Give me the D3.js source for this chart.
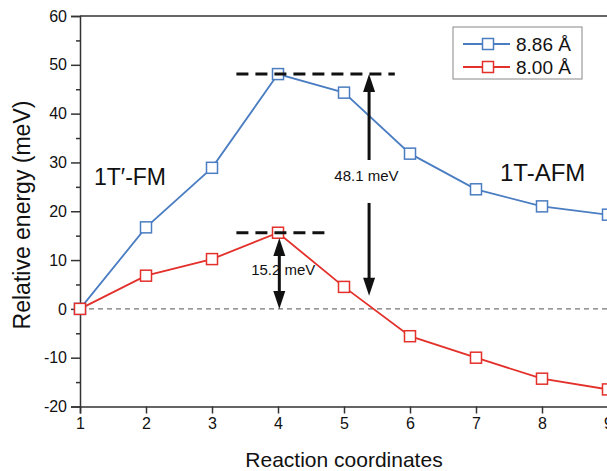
<html>
<head>
    <title></title>
    <script src='https://d3js.org/d3.v7.min.js'></script>
    <style>
        body { margin: 0; background: white; }
        text { font-family: 'Liberation Sans', Arial, sans-serif; fill: #111; }
    </style>
</head>
<body>
<script>

var coords = [1, 2, 3, 4, 5, 6, 7, 8, 9];
var e886 = [0, 16.7, 28.9, 48.1, 44.3, 31.8, 24.5, 21.0, 19.3];
var e800 = [0, 6.8, 10.2, 15.6, 4.5, -5.6, -10.0, -14.3, -16.5];
var seriesNames = ['8.86 Å', '8.00 Å'];
var seriesColors = ['#4a7dc1', '#e3302b'];
var xTicks = [1, 2, 3, 4, 5, 6, 7, 8, 9];
var yTicks = [-20, -10, 0, 10, 20, 30, 40, 50, 60];
var yMinor = [-15, -5, 5, 15, 25, 35, 45, 55];

// barrier annotations: dashed level from x0..x1, arrow at ax from yTop down to yBot
var barriers = [
    {label: '48.1 meV', level: 48.1, x0: 3.37, x1: 5.77, ax: 5.38, yTop: 48.1, yBot: 2.7, gapTop: 30.5, gapBot: 21.7, tx: 5.34, ty: 26.1},
    {label: '15.2 meV', level: 15.6, x0: 3.37, x1: 4.76, ax: 4.02, yTop: 14.5, yBot: 0, gapTop: null, gapBot: null, tx: 4.08, ty: 7.0}
];

var width = 607, height = 471;

var x = d3.scaleLinear().domain([1, 9]).range([80, 608]);
var y = d3.scaleLinear().domain([-20, 60]).range([406.5, 16]);

var svg = d3.select('body').append('svg')
    .attr('width', width)
    .attr('height', height);

// frame top + right
svg.append('line')
    .attr('x1', x(1)).attr('x2', x(9))
    .attr('y1', y(60)).attr('y2', y(60))
    .attr('stroke', '#333').attr('stroke-width', 1.5);
svg.append('line')
    .attr('x1', x(9)).attr('x2', x(9))
    .attr('y1', y(60)).attr('y2', y(-20))
    .attr('stroke', '#333').attr('stroke-width', 1.5);

// zero line
svg.append('line')
    .attr('x1', x(1)).attr('x2', x(9))
    .attr('y1', y(0)).attr('y2', y(0))
    .attr('stroke', '#777').attr('stroke-width', 1.3)
    .attr('stroke-dasharray', '5,4');

// axes
var fmt = function(d) { return String(d); };   // plain hyphen for negatives

svg.append('g')
    .attr('transform', 'translate(0,' + y(-20) + ')')
    .call(d3.axisBottom(x).tickValues(xTicks).tickFormat(fmt).tickSize(7).tickPadding(4));

svg.append('g')
    .attr('transform', 'translate(' + x(1) + ',0)')
    .call(d3.axisLeft(y).tickValues(yTicks).tickFormat(fmt).tickSize(9).tickPadding(4));

svg.append('g')
    .attr('transform', 'translate(' + x(1) + ',0)')
    .call(d3.axisLeft(y).tickValues(yMinor).tickSize(4).tickFormat(''))
    .select('.domain').remove();

svg.selectAll('.domain').attr('stroke', '#333').attr('stroke-width', 1.5);
svg.selectAll('.tick line').attr('stroke', '#333').attr('stroke-width', 1.5);
svg.selectAll('.tick text').attr('font-size', 16).attr('fill', '#111')
    .style('font-family', "'Liberation Sans', Arial, sans-serif");

// axis titles
svg.append('text')
    .attr('x', (x(1) + x(9)) / 2).attr('y', 467)
    .attr('text-anchor', 'middle')
    .attr('font-size', 21)
    .text('Reaction coordinates');

svg.append('text')
    .attr('transform', 'translate(30,215) rotate(-90)')
    .attr('text-anchor', 'middle')
    .attr('font-size', 23)
    .text('Relative energy (meV)');

// series
var line = d3.line()
    .x(function(d, i) { return x(coords[i]); })
    .y(function(d) { return y(d); });

var allSeries = [e886, e800];

allSeries.forEach(function(vals, k) {
    svg.append('path')
        .datum(vals)
        .attr('d', line)
        .attr('fill', 'none')
        .attr('stroke', seriesColors[k])
        .attr('stroke-width', 1.8);
});

allSeries.forEach(function(vals, k) {
    svg.selectAll('.mk' + k)
        .data(vals)
        .enter().append('rect')
        .attr('x', function(d, i) { return x(coords[i]) - 5.5; })
        .attr('y', function(d) { return y(d) - 5.5; })
        .attr('width', 11).attr('height', 11)
        .attr('fill', 'white')
        .attr('stroke', seriesColors[k])
        .attr('stroke-width', 1.5);
});

// barrier annotations
var drawHead = function(px, py, dir) {
    // dir = -1 points up, 1 points down
    var len = 18, half = 6;
    svg.append('polygon')
        .attr('points', [[px, py], [px - half, py - dir * len], [px + half, py - dir * len]].join(' '))
        .attr('fill', '#111');
};

barriers.forEach(function(b) {
    svg.append('line')
        .attr('x1', x(b.x0)).attr('x2', x(b.x1))
        .attr('y1', y(b.level)).attr('y2', y(b.level))
        .attr('stroke', '#111').attr('stroke-width', 3)
        .attr('stroke-dasharray', '12,7');

    var ax = x(b.ax);
    if (b.gapTop !== null) {
        svg.append('line').attr('x1', ax).attr('x2', ax)
            .attr('y1', y(b.yTop) + 10).attr('y2', y(b.gapTop))
            .attr('stroke', '#111').attr('stroke-width', 3);
        svg.append('line').attr('x1', ax).attr('x2', ax)
            .attr('y1', y(b.gapBot)).attr('y2', y(b.yBot) - 10)
            .attr('stroke', '#111').attr('stroke-width', 3);
    } else {
        svg.append('line').attr('x1', ax).attr('x2', ax)
            .attr('y1', y(b.yTop) + 10).attr('y2', y(b.yBot) - 10)
            .attr('stroke', '#111').attr('stroke-width', 3);
    }
    drawHead(ax, y(b.yTop), -1);
    drawHead(ax, y(b.yBot), 1);

    svg.append('text')
        .attr('x', x(b.tx)).attr('y', y(b.ty))
        .attr('text-anchor', 'middle')
        .attr('font-size', 15)
        .text(b.label);
});

// phase labels
svg.append('text')
    .attr('x', 94).attr('y', 185)
    .attr('font-size', 23)
    .text('1T\u2032-FM');

svg.append('text')
    .attr('x', 500).attr('y', 181)
    .attr('font-size', 24)
    .text('1T-AFM');

// legend
var legend = svg.append('g').attr('transform', 'translate(453,27)');
legend.append('rect')
    .attr('width', 129).attr('height', 52)
    .attr('fill', 'white')
    .attr('stroke', '#888').attr('stroke-width', 1);

seriesNames.forEach(function(name, k) {
    var ry = 17 + k * 23;
    legend.append('line')
        .attr('x1', 10).attr('x2', 57)
        .attr('y1', ry).attr('y2', ry)
        .attr('stroke', seriesColors[k]).attr('stroke-width', 1.8);
    legend.append('rect')
        .attr('x', 35 - 5.5).attr('y', ry - 5.5)
        .attr('width', 11).attr('height', 11)
        .attr('fill', 'white')
        .attr('stroke', seriesColors[k]).attr('stroke-width', 1.5);
    legend.append('text')
        .attr('x', 63).attr('y', ry + 7)
        .attr('font-size', 19)
        .text(name);
});

</script>
</body>
</html>
